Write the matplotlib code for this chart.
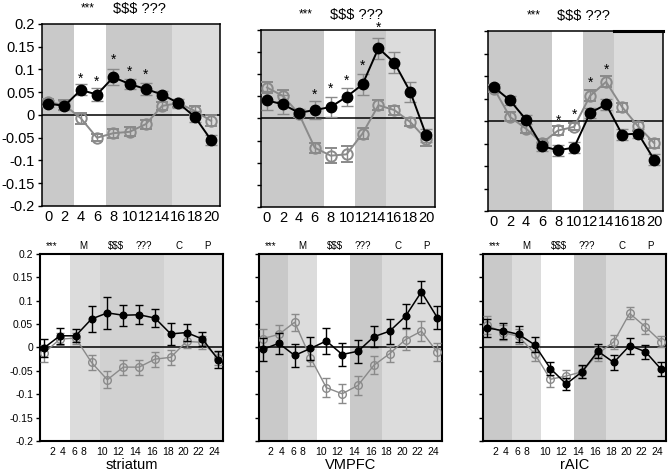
import numpy as np
import matplotlib
matplotlib.use('Agg')
import matplotlib.pyplot as plt

plt.rcParams['font.family'] = ['Liberation Sans', 'DejaVu Sans']

# ---- top row (time 0..20) ----
top_x = [0, 2, 4, 6, 8, 10, 12, 14, 16, 18, 20]

tl_black = [0.025, 0.020, 0.055, 0.045, 0.083, 0.068, 0.057, 0.045, 0.026, -0.004, -0.055]
tl_black_err = [0.008, 0.010, 0.012, 0.015, 0.017, 0.010, 0.013, 0.008, 0.010, 0.012, 0.012]
tl_gray = [0.028, 0.022, -0.007, -0.050, -0.040, -0.037, -0.020, 0.020, 0.026, 0.009, -0.013]
tl_gray_err = [0.008, 0.010, 0.012, 0.008, 0.010, 0.010, 0.010, 0.008, 0.008, 0.010, 0.012]

tm_black = [0.041, 0.032, 0.013, 0.019, 0.026, 0.049, 0.077, 0.159, 0.126, 0.060, -0.038]
tm_black_err = [0.022, 0.022, 0.008, 0.020, 0.022, 0.020, 0.023, 0.024, 0.024, 0.022, 0.015]
tm_gray = [0.070, 0.051, 0.011, -0.066, -0.084, -0.081, -0.034, 0.030, 0.019, -0.008, -0.047]
tm_gray_err = [0.012, 0.013, 0.008, 0.011, 0.017, 0.018, 0.013, 0.011, 0.010, 0.008, 0.015]

tr_black = [0.075, 0.046, 0.003, -0.056, -0.065, -0.059, 0.018, 0.037, -0.030, -0.028, -0.086]
tr_black_err = [0.008, 0.010, 0.010, 0.010, 0.012, 0.012, 0.012, 0.012, 0.012, 0.010, 0.012]
tr_gray = [0.072, 0.009, -0.017, -0.049, -0.021, -0.013, 0.056, 0.087, 0.031, -0.012, -0.049]
tr_gray_err = [0.008, 0.010, 0.010, 0.010, 0.010, 0.008, 0.012, 0.012, 0.010, 0.010, 0.010]

# significance stars (x, y)
tl_stars_x = [4, 6, 8, 10, 12]
tl_stars_y = [0.079, 0.073, 0.121, 0.095, 0.088]
tm_stars_x = [6, 8, 10, 12, 14]
tm_stars_y = [0.054, 0.068, 0.086, 0.120, 0.204]
tr_stars_x = [8, 10, 12, 14]
tr_stars_y = [0.001, 0.013, 0.084, 0.114]

# ---- bottom row (time 2..24) ----
bot_x = [2, 4, 6, 8, 10, 12, 14, 16, 18, 20, 22, 24]
bot_tick_labels = ['2', '4', '6', '8', '10', '12', '14', '16', '18', '20', '22', '24']
bot_phase_labels = ['***', 'M', '$$$', '???', 'C', 'P']
bot_names = ['striatum', 'VMPFC', 'rAIC']

bl_black = [-0.001, 0.025, 0.025, 0.061, 0.074, 0.069, 0.070, 0.063, 0.029, 0.032, 0.018, -0.026]
bl_black_err = [0.020, 0.017, 0.014, 0.027, 0.034, 0.022, 0.020, 0.020, 0.024, 0.018, 0.015, 0.018]
bl_gray = [-0.012, 0.018, 0.020, -0.032, -0.069, -0.042, -0.042, -0.025, -0.021, 0.013, 0.011, -0.023]
bl_gray_err = [0.018, 0.013, 0.012, 0.016, 0.018, 0.016, 0.016, 0.016, 0.016, 0.014, 0.014, 0.014]

bm_black = [-0.004, 0.009, -0.017, -0.002, 0.014, -0.015, -0.008, 0.023, 0.035, 0.067, 0.119, 0.064]
bm_black_err = [0.025, 0.022, 0.024, 0.024, 0.028, 0.025, 0.025, 0.022, 0.027, 0.026, 0.023, 0.024]
bm_gray = [0.019, 0.028, 0.054, -0.022, -0.086, -0.099, -0.081, -0.038, -0.013, 0.017, 0.035, -0.010]
bm_gray_err = [0.020, 0.020, 0.018, 0.018, 0.020, 0.020, 0.020, 0.019, 0.017, 0.022, 0.022, 0.019]

br_black = [0.042, 0.036, 0.028, 0.006, -0.045, -0.078, -0.052, -0.008, -0.032, 0.004, -0.009, -0.047]
br_black_err = [0.019, 0.017, 0.017, 0.016, 0.014, 0.012, 0.014, 0.015, 0.016, 0.017, 0.015, 0.015]
br_gray = [0.048, 0.032, 0.024, -0.013, -0.068, -0.061, -0.052, -0.013, 0.012, 0.073, 0.044, 0.012]
br_gray_err = [0.020, 0.017, 0.016, 0.015, 0.016, 0.013, 0.013, 0.015, 0.015, 0.013, 0.016, 0.012]

DARK = '#c9c9c9'
MID = '#d1d1d1'
LIGHT = '#dcdcdc'
GRAY = '#8a8a8a'
YLABELS = ['0.2', '0.15', '0.1', '0.05', '0', '-0.05', '-0.1', '-0.15', '-0.2']


def shade(ax, edges, colors):
    for (a, b), c in zip(zip(edges[:-1], edges[1:]), colors):
        if c is not None:
            ax.axvspan(a, b, color=c, lw=0, zorder=0)


def style_axis(ax, xlim, lw):
    ax.set_xlim(*xlim)
    ax.set_ylim(-0.2, 0.2)
    ax.set_yticks([0.2, 0.15, 0.1, 0.05, 0, -0.05, -0.1, -0.15, -0.2])
    ax.tick_params(axis='y', direction='out', length=3, width=1, pad=2)
    ax.tick_params(axis='x', length=0)
    for s in ax.spines.values():
        s.set_linewidth(lw)
    ax.axhline(0, color='black', lw=1.1, zorder=2)


def top_panel(ax, black, black_err, gray, gray_err, edges, sx, sy, show_y):
    shade(ax, edges, [DARK, None, DARK, LIGHT])
    style_axis(ax, (-0.75, 21.1), 1.1)
    ax.errorbar(top_x, gray, yerr=gray_err, color=GRAY, lw=1.4, marker='o', ms=7.5,
                mfc='none', mec=GRAY, mew=1.4, ecolor=GRAY, elinewidth=1, capsize=4, zorder=3)
    ax.errorbar(top_x, black, yerr=black_err, color='black', lw=1.4, marker='o', ms=7.5,
                mfc='black', mec='black', ecolor=GRAY, elinewidth=1, capsize=4, zorder=4)
    for x, y in zip(sx, sy):
        ax.text(x, y, '*', ha='center', va='center', fontsize=10, clip_on=False)
    ax.set_xticks(top_x)
    ax.set_xticklabels([str(v) for v in top_x], fontsize=10.5)
    ax.tick_params(axis='x', pad=3)
    if show_y:
        ax.set_yticklabels(YLABELS, fontsize=10.5)
    else:
        ax.set_yticklabels([])
    ax.annotate('***', xy=(4.9, 1), xycoords=('data', 'axes fraction'), xytext=(0, 11),
                textcoords='offset points', ha='center', va='center', fontsize=8.5)
    ax.annotate('$$$ ???', xy=(11.2, 1), xycoords=('data', 'axes fraction'), xytext=(0, 11),
                textcoords='offset points', ha='center', va='center', fontsize=10.5)


def bottom_panel(ax, black, black_err, gray, gray_err, edges, colors, name, show_y):
    shade(ax, edges, colors)
    style_axis(ax, (1.5, 24.6), 1.5)
    ax.errorbar(bot_x, gray, yerr=gray_err, color=GRAY, lw=1, marker='o', ms=5.5,
                mfc='none', mec=GRAY, mew=1, ecolor=GRAY, elinewidth=1, capsize=3, zorder=3)
    ax.errorbar(bot_x, black, yerr=black_err, color='black', lw=1.1, marker='o', ms=4.8,
                mfc='black', mec='black', ecolor='black', elinewidth=1, capsize=3, zorder=4)
    ax.set_xticks([3.0, 4.4, 5.8, 7.0, 9.3, 11.4, 13.5, 15.6, 17.6, 19.6, 21.5, 23.5])
    ax.set_xticklabels(bot_tick_labels, fontsize=7.5)
    ax.tick_params(axis='x', pad=4)
    if show_y:
        ax.set_yticklabels(YLABELS, fontsize=7.5)
    else:
        ax.set_yticklabels([])
    ax.set_xlabel(name, fontsize=10.5, labelpad=1)
    for x, lab in zip([3.0, 7.0, 11.1, 14.6, 19.1, 22.6], bot_phase_labels):
        ax.annotate(lab, xy=(x, 1), xycoords=('data', 'axes fraction'), xytext=(0, 6),
                    textcoords='offset points', ha='center', va='center', fontsize=7)


def main():
    fig = plt.figure(figsize=(6.68, 4.73), dpi=100)

    ax1 = fig.add_axes([0.0629, 0.5645, 0.2665, 0.3848])
    ax2 = fig.add_axes([0.3907, 0.5624, 0.2605, 0.3742])
    ax3 = fig.add_axes([0.7305, 0.5539, 0.262, 0.3805])
    ax4 = fig.add_axes([0.0599, 0.0677, 0.274, 0.3953])
    ax5 = fig.add_axes([0.3877, 0.0677, 0.274, 0.3953])
    ax6 = fig.add_axes([0.7231, 0.0677, 0.274, 0.3953])

    top_panel(ax1, tl_black, tl_black_err, tl_gray, tl_gray_err,
              [-1, 3.2, 7.05, 15.2, 22], tl_stars_x, tl_stars_y, True)
    top_panel(ax2, tm_black, tm_black_err, tm_gray, tm_gray_err,
              [-1, 7.2, 11.0, 15.0, 22], tm_stars_x, tm_stars_y, False)
    top_panel(ax3, tr_black, tr_black_err, tr_gray, tr_gray_err,
              [-1, 7.2, 11.1, 15.0, 22], tr_stars_x, tr_stars_y, False)
    # heavier top edge over the last block of the rAIC panel
    ax3.plot([15.0, 21.1], [0.2, 0.2], color='black', lw=2.2, clip_on=False, zorder=6)

    bottom_panel(ax4, bl_black, bl_black_err, bl_gray, bl_gray_err,
                 [1, 5.25, 9.1, 17.2, 25], [None, LIGHT, MID, LIGHT], bot_names[0], True)
    bottom_panel(ax5, bm_black, bm_black_err, bm_gray, bm_gray_err,
                 [1, 5.1, 8.85, 12.95, 17.0, 25], [DARK, LIGHT, None, DARK, LIGHT], bot_names[1], False)
    bottom_panel(ax6, br_black, br_black_err, br_gray, br_gray_err,
                 [1, 5.15, 8.85, 13.0, 17.0, 25], [DARK, LIGHT, None, DARK, LIGHT], bot_names[2], False)

    fig.savefig('out.png', dpi=100)
    plt.close(fig)


if __name__ == '__main__':
    main()
